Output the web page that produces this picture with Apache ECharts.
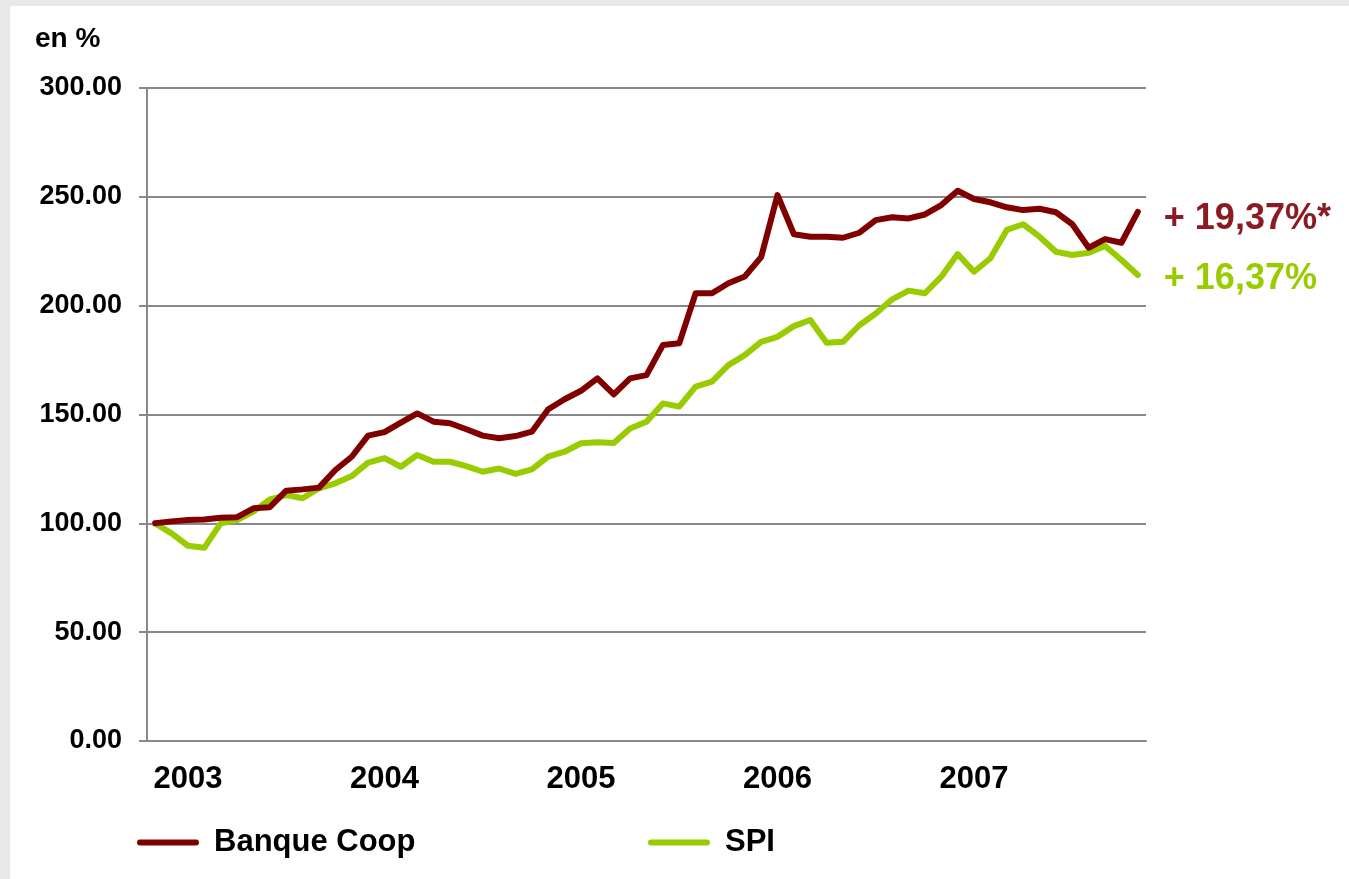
<!DOCTYPE html>
<html>
<head>
<meta charset="UTF-8">
<title>Banque Coop vs SPI</title>
<style>
html,body{margin:0;padding:0;background:#e8e8e8;}
#sheet{position:absolute;left:10px;top:6px;width:1339px;height:873px;background:#fff;}
#picContainer{position:absolute;left:0;top:0;width:1349px;height:879px;}
</style>
</head>
<body>
<div id="sheet"></div>
<div id="picContainer"></div>
<script src="https://cdn.jsdelivr.net/npm/echarts@6/dist/echarts.min.js"></script>
<script>
// monthly values, index 0 = nov. 2002 (base 100)
var banqueCoop = [100, 100.9, 101.5, 101.8, 102.6, 102.8, 106.9, 107.4, 115, 115.6,
    116.4, 124.5, 130.6, 140.3, 141.9, 146.3, 150.5, 146.7, 146, 143.2,
    140.3, 139.1, 140.1, 142.1, 152.4, 157, 160.9, 166.6, 159.2, 166.6,
    168.1, 181.9, 182.7, 205.7, 205.7, 210.3, 213.4, 222.3, 250.8, 232.8,
    231.7, 231.7, 231.2, 233.5, 239.3, 240.6, 240.1, 241.9, 246.2, 252.8,
    249, 247.5, 245.2, 243.9, 244.5, 242.9, 237.4, 226.6, 230.6, 228.9,
    243.1];
var spi = [100, 95.4, 89.7, 88.8, 100, 101.5, 105.4, 111, 113, 111.5,
    116.1, 118.4, 121.7, 127.9, 130, 126, 131.4, 128.3, 128.3, 126.3,
    123.7, 125.2, 122.7, 124.8, 130.6, 132.9, 136.8, 137.2, 136.9, 143.6,
    146.7, 155.1, 153.6, 162.8, 165.1, 172.7, 177.3, 183.4, 185.7, 190.6,
    193.4, 183, 183.4, 191, 196.4, 202.9, 206.9, 205.7, 213.3, 223.7,
    215.6, 221.8, 234.8, 237.4, 231.7, 224.8, 223.3, 224.3, 227.4, 221,
    214.1];
var seriesNames = ['Banque Coop', 'SPI'];
var endTexts = ['+ 19,37%*', '+ 16,37%'];
var yTicks = [0, 50, 100, 150, 200, 250, 300];

// month categories, nov. 2002 .. nov. 2007
var months = [];
for (var k = 0; k < banqueCoop.length; k++) {
    var m = 10 + k;
    var yr = 2002 + Math.floor(m / 12);
    var mo = m % 12 + 1;
    months.push(yr + '-' + (mo < 10 ? '0' + mo : mo));
}

var FONT = "'Liberation Sans', Arial, sans-serif";
var RED = '#800000', GREEN = '#99cc00';
var pill = 'path://M3,0 H59 A3,3 0 0 1 59,6 H3 A3,3 0 0 1 3,0 Z';

var myChart = echarts.init(document.getElementById('picContainer'));
var option = {
    animation: false,
    backgroundColor: 'transparent',
    title: {
        text: 'en %',
        left: 35,
        top: 25,
        padding: 0,
        textStyle: {fontFamily: FONT, fontSize: 28, fontWeight: 'bold', color: '#000'}
    },
    grid: {left: 147, right: 203, top: 88, bottom: 138},
    legend: [{
        data: [seriesNames[0]],
        left: 137, top: 827, padding: 0,
        icon: pill, itemWidth: 62, itemHeight: 6,
        textStyle: {fontFamily: FONT, fontSize: 31, fontWeight: 'bold', color: '#000', padding: [0, 0, 0, 10]}
    }, {
        data: [seriesNames[1]],
        left: 648, top: 827, padding: 0,
        icon: pill, itemWidth: 62, itemHeight: 6,
        textStyle: {fontFamily: FONT, fontSize: 31, fontWeight: 'bold', color: '#000', padding: [0, 0, 0, 10]}
    }],
    xAxis: {
        type: 'category',
        data: months,
        boundaryGap: true,
        axisLine: {lineStyle: {color: '#888', width: 2}},
        axisTick: {show: false},
        splitLine: {show: false},
        axisLabel: {
            interval: function (idx, val) { return val.slice(5) === '01'; },
            formatter: function (val) { return val.slice(0, 4); },
            margin: 23,
            fontFamily: FONT, fontSize: 31, fontWeight: 'bold', color: '#000'
        }
    },
    yAxis: {
        type: 'value',
        min: yTicks[0], max: yTicks[yTicks.length - 1], interval: 50,
        axisLine: {show: true, lineStyle: {color: '#888', width: 2}},
        axisTick: {show: true, length: 8, lineStyle: {color: '#888', width: 2}},
        splitLine: {lineStyle: {color: '#888', width: 2}},
        axisLabel: {
            formatter: function (v) { return v.toFixed(2); },
            margin: 25,
            fontFamily: FONT, fontSize: 27, fontWeight: 'bold', color: '#000'
        }
    },
    series: [{
        name: seriesNames[0],
        type: 'line',
        data: banqueCoop,
        symbol: 'none',
        itemStyle: {color: RED},
        lineStyle: {color: RED, width: 6, cap: 'round', join: 'round'},
        endLabel: {
            show: true, formatter: endTexts[0], distance: 26, offset: [0, 7],
            fontFamily: FONT, fontSize: 36, fontWeight: 'bold', color: '#8c1a22'
        },
        z: 3
    }, {
        name: seriesNames[1],
        type: 'line',
        data: spi,
        symbol: 'none',
        itemStyle: {color: GREEN},
        lineStyle: {color: GREEN, width: 6, cap: 'round', join: 'round'},
        endLabel: {
            show: true, formatter: endTexts[1], distance: 26, offset: [0, 4],
            fontFamily: FONT, fontSize: 36, fontWeight: 'bold', color: GREEN
        },
        z: 2
    }]
};
myChart.setOption(option);
</script>
</body>
</html>
